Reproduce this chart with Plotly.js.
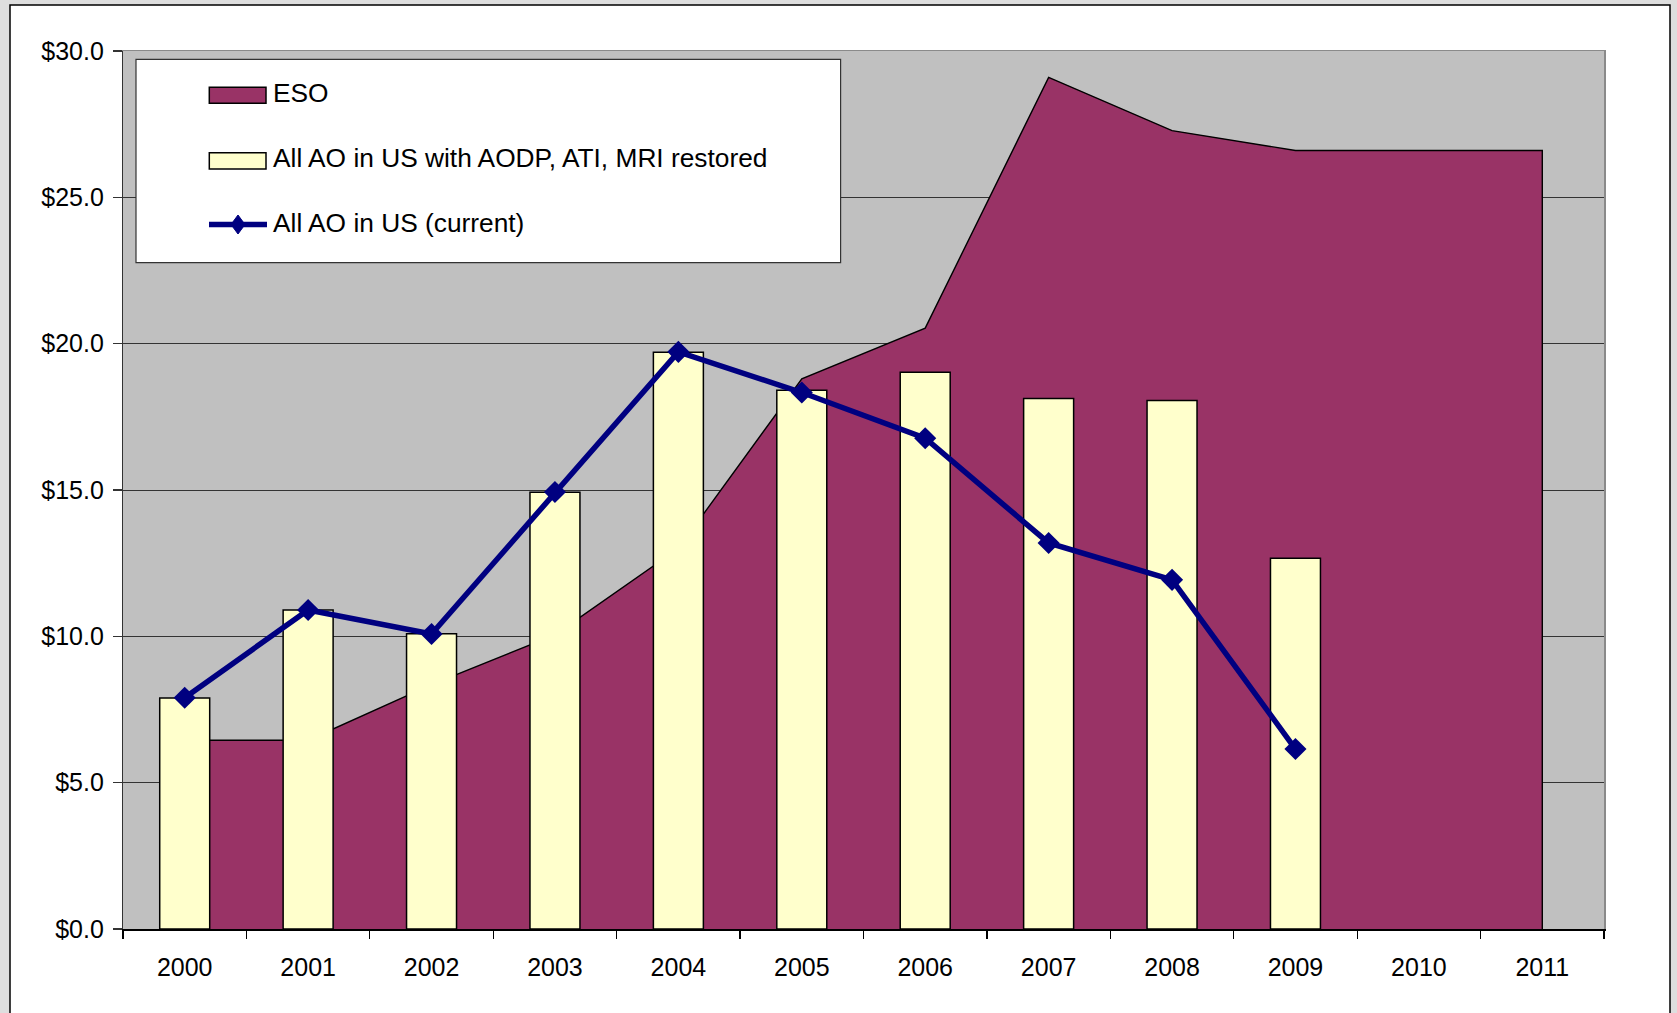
<!DOCTYPE html>
<html>
<head>
<meta charset="utf-8">
<script src="https://cdn.plot.ly/plotly-3.0.1.min.js"></script>
<style>
html,body{margin:0;padding:0;background:#dedede;overflow:hidden}
#chart{width:1677px;height:1013px}
</style>
</head>
<body>
<div id="chart"></div>
<script>
// ---- data ----
const years = ['2000','2001','2002','2003','2004','2005','2006','2007','2008','2009','2010','2011'];
const esoValues = [6.45, 6.45, 8.35, 10.05, 13.0, 18.8, 20.53, 29.1, 27.28, 26.6, 26.6, 26.6];
const restoredValues = [7.89, 10.9, 10.09, 14.92, 19.71, 18.41, 19.02, 18.13, 18.06, 12.67, null, null];
const currentValues = [7.9, 10.9, 10.08, 14.93, 19.72, 18.33, 16.77, 13.19, 11.93, 6.15, null, null];
const seriesNames = ['ESO', 'All AO in US with AODP, ATI, MRI restored', 'All AO in US (current)'];
const yTickValues = [0, 5, 10, 15, 20, 25, 30];
const yTickLabels = yTickValues.map(v => '$' + v.toFixed(1));

// ---- styling ----
const FONT = 'Liberation Sans, Arial, Helvetica, sans-serif';
const FS = 25;
const LEG_FS = 26.3;
const ESO_COLOR = '#993366';
const BAR_COLOR = '#FFFFCC';
const LINE_COLOR = '#000080';

const L = 123, T = 51, W = 1481, H = 878;
const PW = 1677, PH = 1013;
const px = x => (x - L) / W;
const py = y => (T + H - y) / H;

// closed polygon for the area (baseline at zero)
const areaX = [years[0]].concat(years, [years[years.length - 1]]);
const areaY = [0].concat(esoValues, [0]);

const traces = [
  {
    type: 'scatter', mode: 'lines', name: seriesNames[0],
    x: areaX, y: areaY, xaxis: 'x', yaxis: 'y',
    fill: 'toself', fillcolor: ESO_COLOR,
    line: {color: '#000000', width: 1.4},
    hoverinfo: 'skip', showlegend: false
  },
  {
    type: 'bar', name: seriesNames[1],
    x: years, y: restoredValues, xaxis: 'x2', yaxis: 'y2',
    marker: {color: BAR_COLOR, line: {color: '#000000', width: 1.5}},
    hoverinfo: 'skip', showlegend: false
  },
  {
    type: 'scatter', mode: 'lines+markers', name: seriesNames[2],
    x: years, y: currentValues, xaxis: 'x2', yaxis: 'y2',
    line: {color: LINE_COLOR, width: 5.5},
    marker: {symbol: 'diamond', size: 17, color: LINE_COLOR},
    hoverinfo: 'skip', showlegend: false
  }
];

const shapes = [
  // white frame
  {type: 'rect', xref: 'paper', yref: 'paper', layer: 'below',
   x0: px(10), x1: px(1670), y0: py(1030), y1: py(5),
   fillcolor: '#ffffff', line: {color: '#000000', width: 1.5}},
  // plot area
  {type: 'rect', xref: 'paper', yref: 'paper', layer: 'below',
   x0: 0, x1: 1, y0: 0, y1: 1, fillcolor: '#C0C0C0', line: {width: 0}},
  // legend box
  {type: 'rect', xref: 'paper', yref: 'paper', layer: 'above',
   x0: px(136), x1: px(840.6), y0: py(262.7), y1: py(59.3),
   fillcolor: '#ffffff', line: {color: '#333333', width: 1.2}},
  {type: 'rect', xref: 'paper', yref: 'paper', layer: 'above',
   x0: px(209.3), x1: px(266), y0: py(103.3), y1: py(87.3),
   fillcolor: ESO_COLOR, line: {color: '#000000', width: 1.5}},
  {type: 'rect', xref: 'paper', yref: 'paper', layer: 'above',
   x0: px(209.3), x1: px(266), y0: py(169), y1: py(152.7),
   fillcolor: BAR_COLOR, line: {color: '#000000', width: 1.5}},
  {type: 'line', xref: 'paper', yref: 'paper', layer: 'above',
   x0: px(209), x1: px(267), y0: py(224.5), y1: py(224.5),
   line: {color: LINE_COLOR, width: 5.5}},
  {type: 'path', xref: 'paper', yref: 'paper', layer: 'above',
   path: 'M' + px(238) + ',' + py(215) + ' L' + px(245) + ',' + py(224.5) +
         ' L' + px(238) + ',' + py(234) + ' L' + px(231) + ',' + py(224.5) + ' Z',
   fillcolor: LINE_COLOR, line: {color: LINE_COLOR, width: 1}}
];

const legendText = (txt, yc) => ({
  xref: 'paper', yref: 'paper', x: px(271), y: py(yc),
  xanchor: 'left', yanchor: 'middle', showarrow: false, text: txt,
  font: {family: FONT, size: LEG_FS, color: '#000000'}
});

const annotations = [
  legendText(seriesNames[0], 93.3),
  legendText(seriesNames[1], 158.3),
  legendText(seriesNames[2], 223)
];

const layout = {
  width: PW, height: PH,
  margin: {l: L, r: PW - L - W, t: T, b: PH - T - H, pad: 0},
  paper_bgcolor: '#dedede',
  plot_bgcolor: 'rgba(0,0,0,0)',
  font: {family: FONT, size: FS, color: '#000000'},
  showlegend: false,
  bargap: 0.595,
  xaxis: {
    type: 'category', categoryorder: 'array', categoryarray: years,
    range: [-0.5, 11.5], fixedrange: true,
    showgrid: false, zeroline: false,
    showline: true, linecolor: '#000000', linewidth: 1.5,
    ticks: 'outside', tickson: 'boundaries', ticklen: 8, tickcolor: '#000000', tickwidth: 1.2,
    tickfont: {family: FONT, size: FS, color: '#000000'},
    ticklabelstandoff: 15
  },
  yaxis: {
    range: [0, 30], tickmode: 'array', tickvals: yTickValues, ticktext: yTickLabels,
    fixedrange: true,
    showgrid: true, gridcolor: '#333333', gridwidth: 1,
    zeroline: false,
    showline: true, linecolor: '#333333', linewidth: 1.2,
    ticks: 'outside', ticklen: 9, tickcolor: '#333333', tickwidth: 1.2,
    tickfont: {family: FONT, size: FS, color: '#000000'},
    ticklabelstandoff: 4
  },
  xaxis2: {
    type: 'category', categoryorder: 'array', categoryarray: years,
    range: [-0.5, 11.5], overlaying: 'x', side: 'top', fixedrange: true,
    showgrid: false, zeroline: false, showticklabels: false, ticks: '',
    showline: true, linecolor: '#8a8a8a', linewidth: 1.5
  },
  yaxis2: {
    range: [0, 30], overlaying: 'y', side: 'right', fixedrange: true,
    showgrid: false, zeroline: false, showticklabels: false, ticks: '',
    showline: true, linecolor: '#8a8a8a', linewidth: 1.5
  },
  shapes: shapes,
  annotations: annotations
};

Plotly.newPlot('chart', traces, layout, {staticPlot: true, displayModeBar: false});
</script>
</body>
</html>
